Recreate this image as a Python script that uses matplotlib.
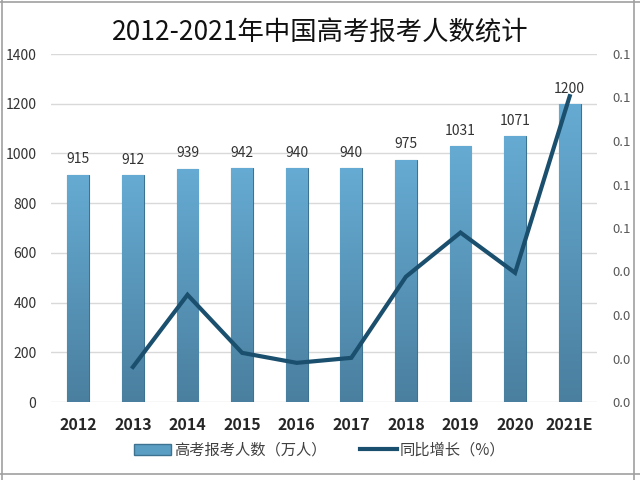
import matplotlib
matplotlib.use("Agg")
import matplotlib.pyplot as plt
import numpy as np
from matplotlib.patches import Rectangle
from matplotlib.lines import Line2D
from matplotlib.ticker import FixedLocator, FixedFormatter
from matplotlib.colors import LinearSegmentedColormap

plt.rcParams['font.family'] = ['Noto Sans CJK SC', 'DejaVu Sans']

years = ["2012", "2013", "2014", "2015", "2016", "2017", "2018", "2019", "2020", "2021E"]
applicants = [915, 912, 939, 942, 940, 940, 975, 1031, 1071, 1200]
growth_years = ["2013", "2014", "2015", "2016", "2017", "2018", "2019", "2020", "2021E"]
growth = [0.0161, 0.0493, 0.0226, 0.0180, 0.0203, 0.0576, 0.0779, 0.0594, 0.1406]
left_ticks = [0, 200, 400, 600, 800, 1000, 1200, 1400]
right_ticks = [0.0, 0.02, 0.04, 0.06, 0.08, 0.10, 0.12, 0.14, 0.16]
right_labels = ["0.0", "0.0", "0.0", "0.0", "0.1", "0.1", "0.1", "0.1", "0.1"]
title = "2012-2021年中国高考报考人数统计"
bar_label = "高考报考人数（万人）"
line_label = "同比增长（%）"

fig = plt.figure(figsize=(6.4, 4.8), dpi=100)
ax = fig.add_axes([51/640, 1-402/480, 546/640, 348/480])
ax2 = ax.twinx()

x = np.arange(len(years))
bars = ax.bar(x, applicants, width=0.4, color='#5b9ec4', edgecolor='#3d7290', linewidth=0.8, zorder=2)

grad = np.linspace(0, 1, 256).reshape(-1, 1)
cmap = LinearSegmentedColormap.from_list('g', ['#4a7f9f', '#66abd3'])
for b in bars:
    x0, y0 = b.get_x(), b.get_y()
    w, h = b.get_width(), b.get_height()
    im = ax.imshow(grad, extent=[x0, x0 + w, y0, y0 + h], origin='lower', cmap=cmap,
                   aspect='auto', zorder=2.5)
    im.set_clip_path(b)

for xi, v in zip(x, applicants):
    ax.text(xi, v + 33, str(v), ha='center', va='bottom', fontsize=10, color='#333333')

ax.set_xlim(-0.5, len(years) - 0.5)
ax.set_ylim(0, 1400)
ax.yaxis.set_major_locator(FixedLocator(left_ticks))
ax.grid(axis='y', color='#d9d9d9', linewidth=1, zorder=0)
ax.set_axisbelow(True)
ax.set_xticks(x)
ax.set_xticklabels(years, fontsize=11.5, fontweight='bold', color='#262626')
ax.tick_params(axis='y', labelsize=10, labelcolor='#333333', length=0, pad=10.5)
ax.tick_params(axis='x', length=0, pad=11)
for s in ax.spines.values():
    s.set_visible(False)

gx = [years.index(g) for g in growth_years]
ax2.plot(gx, growth, color='#1b4f6e', linewidth=3, solid_joinstyle='miter', zorder=5)
ax2.set_ylim(0, 0.16)
ax2.yaxis.set_major_locator(FixedLocator(right_ticks))
ax2.yaxis.set_major_formatter(FixedFormatter(right_labels))
ax2.tick_params(axis='y', labelsize=9.5, labelcolor='#595959', length=0, pad=11)
for s in ax2.spines.values():
    s.set_visible(False)
ax.set_zorder(1)
ax2.set_zorder(2)
ax2.patch.set_visible(False)

fig.text(0.5, 1-33/480, title, ha='center', va='center', fontsize=19, color='#111111',
         family=['Noto Sans CJK SC', 'DejaVu Sans'])

handles = [Rectangle((0, 0), 1, 1, facecolor='#5b9ec4', edgecolor='#3d7290'),
           Line2D([], [], color='#1b4f6e', linewidth=3)]
fig.legend(handles, [bar_label, line_label], loc='center', bbox_to_anchor=(0.5, 1-450/480),
           ncol=2, frameon=False, fontsize=11, handlelength=2.4, columnspacing=2.2,
           handletextpad=0.2, labelcolor='#404040')

fig.add_artist(Line2D([0.003, 0.003], [0, 1], color='#a0a0a0', linewidth=1.2, transform=fig.transFigure))
fig.add_artist(Line2D([0, 1], [0.996, 0.996], color='#a0a0a0', linewidth=1.2, transform=fig.transFigure))
fig.add_artist(Line2D([0.991, 0.991], [0, 1], color='#a0a0a0', linewidth=1.2, transform=fig.transFigure))
fig.add_artist(Line2D([0, 1], [1-474/480, 1-474/480], color='#a0a0a0', linewidth=1.2, transform=fig.transFigure))

fig.savefig("out.png", dpi=100)
